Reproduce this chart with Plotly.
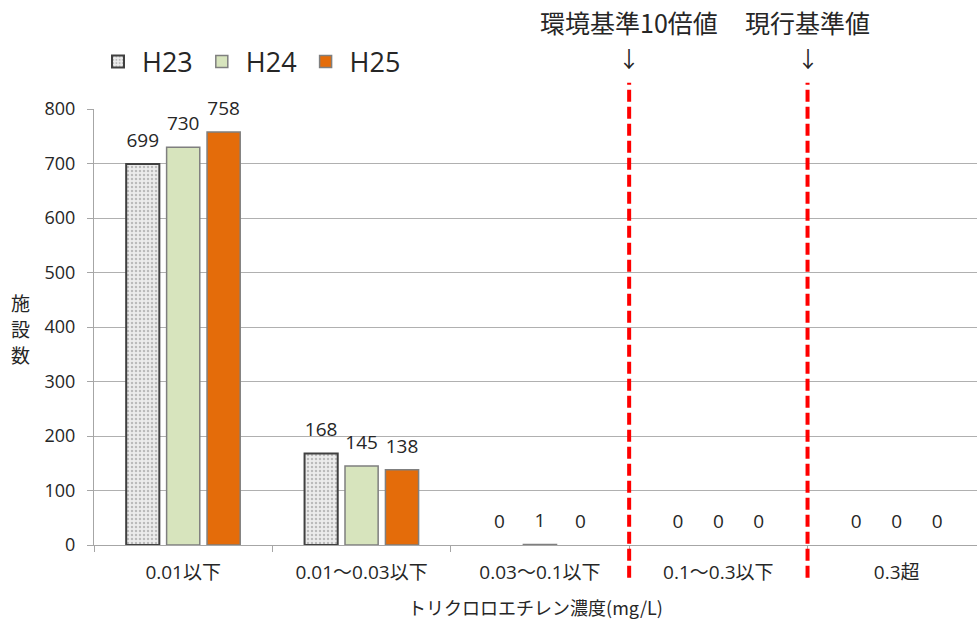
import plotly.graph_objects as go

categories = ["0.01以下", "0.01～0.03以下", "0.03～0.1以下", "0.1～0.3以下", "0.3超"]
h23 = [699, 168, 0, 0, 0]
h24 = [730, 145, 1, 0, 0]
h25 = [758, 138, 0, 0, 0]
series_names = ["H23", "H24", "H25"]
yticks = [0, 100, 200, 300, 400, 500, 600, 700, 800]
ytitle_chars = ["施", "設", "数"]
limit_labels = ["環境基準10倍値", "現行基準値"]

FONT = "Open Sans, Noto Sans CJK JP, sans-serif"
JP = "Noto Sans CJK JP, sans-serif"
TXT = "#262626"
BARGAP = 0.32


def lw(vals, w):
    return [w if v > 0 else 0 for v in vals]


styles = [
    dict(color="#e6e6e6", line=dict(color="#404040", width=lw(h23, 2)),
         pattern=dict(shape=".", fgcolor="#8a8a8a", bgcolor="#ececec", size=4, solidity=0.3)),
    dict(color="#d7e4bd", line=dict(color="#7f7f7f", width=lw(h24, 1.5))),
    dict(color="#e46c0a", line=dict(color="#7f7f7f", width=lw(h25, 1.5))),
]

fig = go.Figure()
for i, (name, vals, mk) in enumerate(zip(series_names, [h23, h24, h25], styles)):
    fig.add_trace(go.Bar(
        name=name, x=categories, y=vals, marker=mk,
        offsetgroup=str(i), alignmentgroup="a", cliponaxis=False,
    ))
for i, vals in enumerate([h23, h24, h25]):
    fig.add_trace(go.Scatter(
        x=categories, y=vals, text=vals, mode="markers+text", textposition="top center",
        marker=dict(size=18, opacity=0), showlegend=False, hoverinfo="skip",
        offsetgroup=str(i), alignmentgroup="a", cliponaxis=False,
        textfont=dict(size=19, color=TXT, family=FONT),
    ))

# red dashed reference lines at category boundaries
for xb, lab in zip([2.5, 3.5], limit_labels):
    fig.add_shape(type="line", xref="x", yref="paper", x0=xb, x1=xb, y0=-0.075, y1=1.06,
                  line=dict(color="#ff0000", width=4, dash="12px,5px"))
    fig.add_annotation(x=xb, xref="x", y=1.2, yref="paper", text=lab, showarrow=False,
                       font=dict(size=25, family=JP, color=TXT), yanchor="middle")
    fig.add_annotation(x=xb, xref="x", y=1.12, yref="paper", text="↓", showarrow=False,
                       font=dict(size=22, family=JP, color=TXT), yanchor="middle")

# y axis title stacked vertically
for ch, yp in zip(ytitle_chars, [0.557, 0.497, 0.437]):
    fig.add_annotation(x=-0.0827, xref="paper", y=yp, yref="paper", text=ch, showarrow=False,
                       font=dict(size=19, family=JP, color=TXT), xanchor="center", yanchor="middle")

fig.update_layout(
    width=977, height=626,
    margin=dict(l=94, r=0, t=109, b=81),
    paper_bgcolor="white", plot_bgcolor="white",
    barmode="group", bargap=BARGAP, bargroupgap=0.18,
    scattermode="group", scattergap=BARGAP,
    font=dict(family=FONT, color=TXT, size=18),
    showlegend=True,
    legend=dict(orientation="h", x=0.0, y=1.108, xanchor="left", yanchor="middle",
                font=dict(size=27, family=FONT, color=TXT), itemwidth=38,
                bgcolor="rgba(0,0,0,0)", traceorder="normal"),
    xaxis=dict(
        type="category", range=[-0.5, 4.45], tickson="boundaries", ticks="outside",
        ticklen=6, tickcolor="#a6a6a6", showline=True, linecolor="#a6a6a6", linewidth=1,
        showgrid=False, tickfont=dict(size=19, family=FONT, color=TXT), ticklabelstandoff=10,
        title=dict(text="トリクロロエチレン濃度(mg/L)", font=dict(size=18, family=JP, color=TXT), standoff=18),
    ),
    yaxis=dict(
        range=[0, 800], tickvals=yticks, ticks="outside", ticklen=6, tickcolor="#a6a6a6",
        showline=True, linecolor="#a6a6a6", linewidth=1, showgrid=True, gridcolor="#b0b0b0",
        zeroline=False, tickfont=dict(size=18, family=FONT, color=TXT), ticklabelstandoff=8,
    ),
)

fig.write_html("out.html", config={"displayModeBar": False},
               post_script="document.body.style.margin='0';")
